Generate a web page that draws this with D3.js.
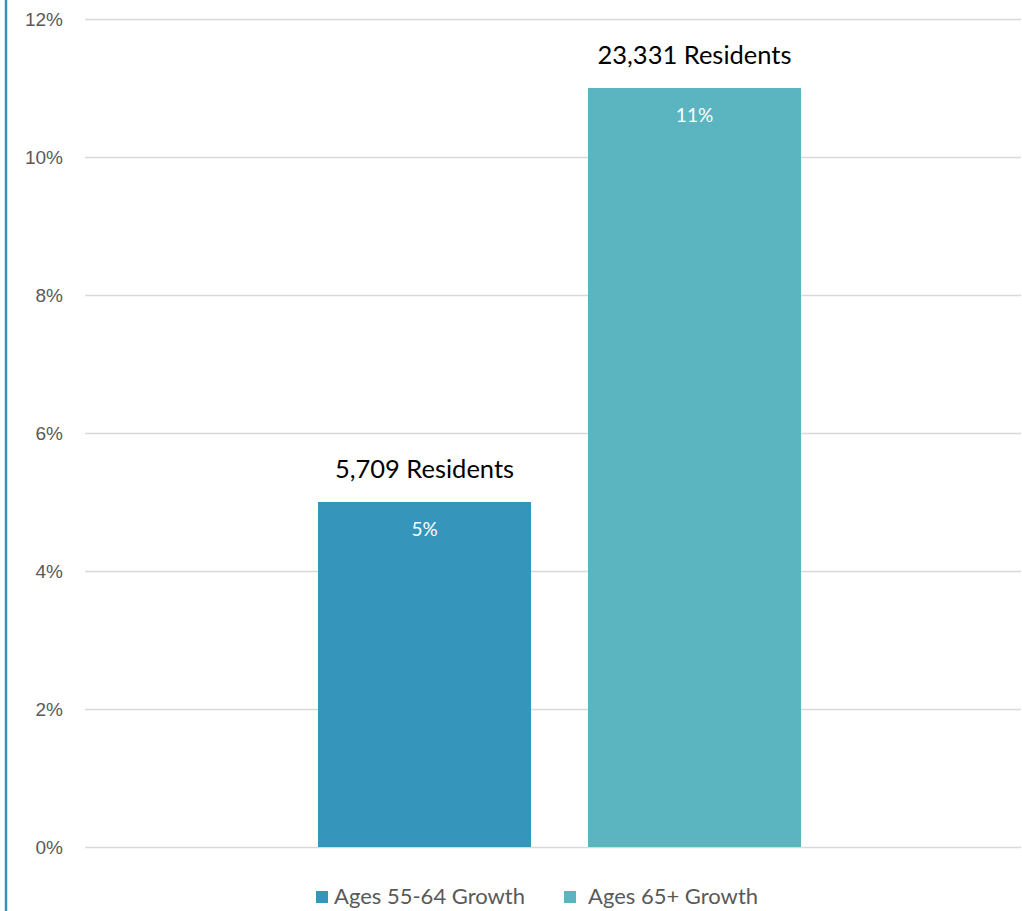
<!DOCTYPE html>
<html>
<head>
<meta charset="utf-8">
<script src="https://cdn.jsdelivr.net/npm/d3@7"></script>
<style>
  html, body { margin: 0; padding: 0; background: #fff; }
  svg { display: block; font-family: "Lato", "Open Sans", sans-serif; }
</style>
</head>
<body>
<svg id="chart" width="1022" height="911"></svg>
<script>
// Growth by age group
const series = ["Ages 55-64 Growth", "Ages 65+ Growth"];
const growthPct = [5, 11];
const residentLabels = ["5,709 Residents", "23,331 Residents"];
const colors = ["#3595bb", "#5ab5c0"];
const yTicks = [0, 2, 4, 6, 8, 10, 12];

const svg = d3.select("#chart");
const W = 1022, H = 911;
const plot = { left: 85, right: 1021, top: 19, bottom: 847 };

const y = d3.scaleLinear().domain([0, 12]).range([plot.bottom, plot.top]);
const x = d3.scaleBand().domain(series).range([318, 801]).paddingInner(57 / 270).paddingOuter(0);

// left border
svg.append("line")
  .attr("x1", 6).attr("x2", 6).attr("y1", 0).attr("y2", H)
  .attr("stroke", "#3a8fb7").attr("stroke-width", 2.5);

// gridlines + tick labels
const yAxis = d3.axisLeft(y).tickValues(yTicks).tickFormat(d => d + "%")
  .tickSize(-(plot.right - plot.left)).tickPadding(22);
const gy = svg.append("g").attr("transform", `translate(${plot.left},0)`).call(yAxis);
gy.select(".domain").remove();
gy.selectAll(".tick line").attr("stroke", "#d9d9d9").attr("stroke-width", 1.5);
gy.selectAll(".tick text").attr("fill", "#595959").attr("font-size", 19).attr("dy", "0.35em");

// bars
const data = series.map((s, i) => ({ s, v: growthPct[i], label: residentLabels[i], c: colors[i] }));
svg.selectAll("rect.bar").data(data).join("rect")
  .attr("class", "bar")
  .attr("x", d => x(d.s)).attr("width", x.bandwidth())
  .attr("y", d => y(d.v)).attr("height", d => y(0) - y(d.v))
  .attr("fill", d => d.c);

// value labels inside bars
svg.selectAll("text.val").data(data).join("text")
  .attr("class", "val")
  .attr("x", d => x(d.s) + x.bandwidth() / 2).attr("y", d => y(d.v) + 34)
  .attr("text-anchor", "middle").attr("fill", "#fff").attr("font-size", 19)
  .text(d => d.v + "%");

// resident counts above bars
svg.selectAll("text.res").data(data).join("text")
  .attr("class", "res")
  .attr("x", d => x(d.s) + x.bandwidth() / 2).attr("y", d => y(d.v) - 24)
  .attr("text-anchor", "middle").attr("fill", "#000").attr("font-size", 25.5)
  .text(d => d.label);

// legend
const legendX = [316, 564];
const lg = svg.selectAll("g.legend").data(data).join("g")
  .attr("class", "legend")
  .attr("transform", (d, i) => `translate(${legendX[i]},891)`);
lg.append("rect").attr("width", 12).attr("height", 12).attr("fill", d => d.c);
lg.append("text").attr("x", (d, i) => i === 0 ? 18 : 24).attr("y", 13)
  .attr("fill", "#595959").attr("font-size", 22)
  .text(d => d.s);
</script>
</body>
</html>
